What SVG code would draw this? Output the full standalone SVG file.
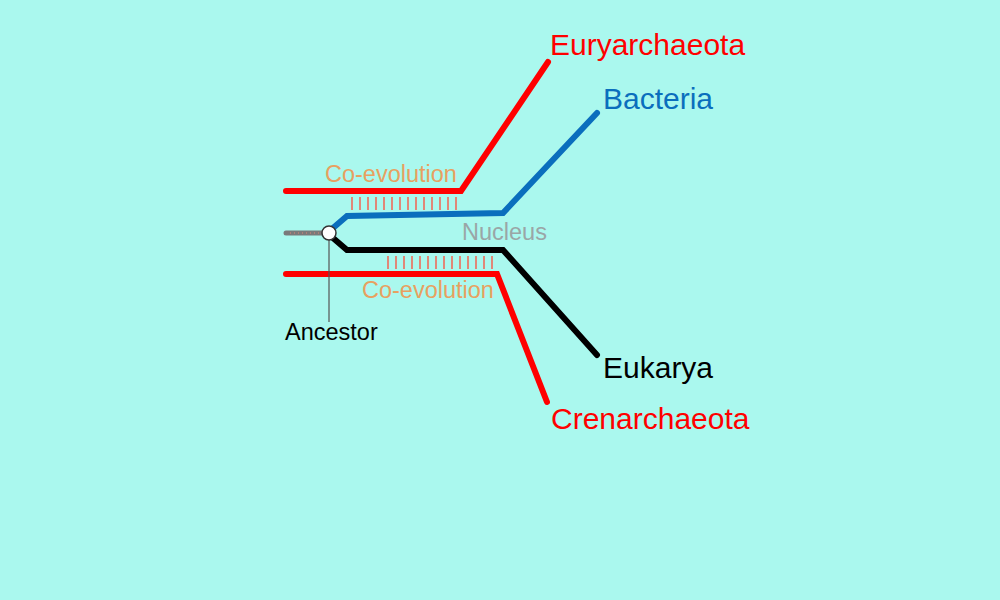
<svg xmlns="http://www.w3.org/2000/svg" width="1000" height="600" viewBox="0 0 1000 600">
<style>
.br{fill:none;stroke-width:6;stroke-linecap:round;stroke-linejoin:miter}
.lbl{font-family:"Liberation Sans",Arial,sans-serif;font-size:30px}
.sm{font-family:"Liberation Sans",Arial,sans-serif;font-size:23.5px}
.tick{stroke:#e08878;stroke-width:2}
</style>
<rect width="1000" height="600" fill="#aaf8ee"/>
<g id="connectors">
<polyline class="br" stroke="#ff0000" points="286,191 461,191 548,62"/>
<polyline class="br" stroke="#0a6ebd" points="333,228 347,216 503,213 597,113"/>
<polyline class="br" stroke="#000000" points="333,238 347,250 503,250 597,355"/>
<polyline class="br" stroke="#ff0000" points="286,274 497,274 547,402"/>
<line x1="286" y1="233" x2="323" y2="233" stroke="#7a7a7a" stroke-width="5" stroke-linecap="round"/>
<line x1="290" y1="233" x2="320" y2="233" stroke="#e08878" stroke-width="1" stroke-dasharray="1,3"/>
<line x1="329" y1="240" x2="329" y2="322" stroke="#555" stroke-width="1.2"/>
</g>
<g id="coevolution-upper">
<path class="tick" d="M352,197v13M360,197v13M368,197v13M376,197v13M384,197v13M392,197v13M400,197v13M408,197v13M416,197v13M424,197v13M432,197v13M440,197v13M448,197v13M456,197v13"/>
<text class="sm" x="325" y="182" fill="#e8a060">Co-evolution</text>
</g>
<g id="coevolution-lower">
<path class="tick" d="M388,256v13M396,256v13M404,256v13M412,256v13M420,256v13M428,256v13M436,256v13M444,256v13M452,256v13M460,256v13M468,256v13M476,256v13M484,256v13M492,256v13"/>
<text class="sm" x="362" y="298" fill="#e8a060">Co-evolution</text>
</g>
<g id="nucleus"><text class="sm" x="462" y="240" fill="#9aa6a6">Nucleus</text></g>
<g id="ancestor">
<circle cx="329" cy="233" r="7" fill="#ffffff" stroke="#333" stroke-width="1.5"/>
<text class="sm" x="285" y="340" fill="#000">Ancestor</text>
</g>
<g id="euryarchaeota"><text class="lbl" x="550" y="55" fill="#ff0000">Euryarchaeota</text></g>
<g id="bacteria"><text class="lbl" x="603" y="109" fill="#0a6ebd">Bacteria</text></g>
<g id="eukarya"><text class="lbl" x="603" y="378" fill="#000">Eukarya</text></g>
<g id="crenarchaeota"><text class="lbl" x="551" y="429" fill="#ff0000">Crenarchaeota</text></g>
</svg>
